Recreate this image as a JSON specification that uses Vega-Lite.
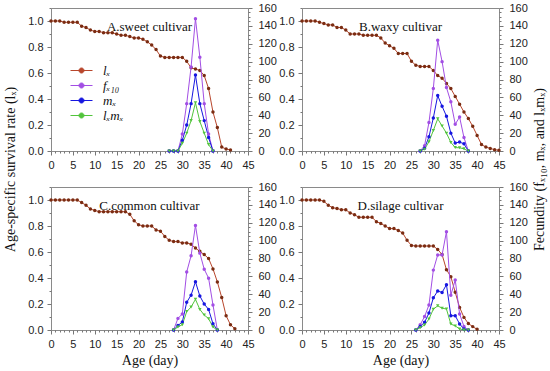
{
  "$schema": "https://vega.github.io/schema/vega-lite/v6.json",
  "padding": {"left": 3, "top": 1, "right": 2, "bottom": 2},
  "config": {
    "view": {"stroke": "#8a8a8a", "strokeWidth": 1},
    "axis": {"domain": false, "grid": false, "ticks": true, "tickSize": 4, "tickColor": "#777777", "tickCount": 100, "labelFont": "Liberation Sans", "labelFontSize": 11, "labelColor": "#222222", "titleFont": "Liberation Serif", "titleFontSize": 14, "titleFontWeight": "normal", "titleColor": "#111111", "labelOverlap": false, "labelFlush": false, "labelPadding": 4},
    "title": {"font": "Liberation Serif", "fontSize": 13, "fontWeight": "normal", "color": "#111111", "anchor": "middle", "offset": -32}
  },
  "data": {"values": [
    {"p":"A","a":0,"lx":1.0},{"p":"A","a":1,"lx":1.0},{"p":"A","a":2,"lx":1.0},{"p":"A","a":3,"lx":0.99},{"p":"A","a":4,"lx":0.99},{"p":"A","a":5,"lx":0.99},{"p":"A","a":6,"lx":0.99},{"p":"A","a":7,"lx":0.96},{"p":"A","a":8,"lx":0.95},{"p":"A","a":9,"lx":0.93},{"p":"A","a":10,"lx":0.92},{"p":"A","a":11,"lx":0.92},{"p":"A","a":12,"lx":0.91},{"p":"A","a":13,"lx":0.91},{"p":"A","a":14,"lx":0.91},{"p":"A","a":15,"lx":0.90},{"p":"A","a":16,"lx":0.89},{"p":"A","a":17,"lx":0.89},{"p":"A","a":18,"lx":0.88},{"p":"A","a":19,"lx":0.87},{"p":"A","a":20,"lx":0.87},{"p":"A","a":21,"lx":0.86},{"p":"A","a":22,"lx":0.84},{"p":"A","a":23,"lx":0.815},{"p":"A","a":24,"lx":0.78},{"p":"A","a":25,"lx":0.73},{"p":"A","a":26,"lx":0.72},
    {"p":"A","a":27,"lx":0.72,"f":0,"m":0,"g":0},{"p":"A","a":28,"lx":0.72,"f":0,"m":0,"g":0},{"p":"A","a":29,"lx":0.72,"f":0,"m":0,"g":0},{"p":"A","a":30,"lx":0.72,"f":19,"m":12,"g":8.6},{"p":"A","a":31,"lx":0.69,"f":53,"m":29,"g":20},{"p":"A","a":32,"lx":0.64,"f":94,"m":53,"g":34},{"p":"A","a":33,"lx":0.63,"f":148,"m":85,"g":54},{"p":"A","a":34,"lx":0.62,"f":105,"m":53,"g":33},{"p":"A","a":35,"lx":0.58,"f":53,"m":34,"g":20},{"p":"A","a":36,"lx":0.48,"f":19,"m":15,"g":7.2},{"p":"A","a":37,"lx":0.30,"f":0,"m":0,"g":0},
    {"p":"A","a":38,"lx":0.18},{"p":"A","a":39,"lx":0.03},{"p":"A","a":40,"lx":0.015},{"p":"A","a":41,"lx":0.008},

    {"p":"B","a":0,"lx":1.0},{"p":"B","a":1,"lx":1.0},{"p":"B","a":2,"lx":1.0},{"p":"B","a":3,"lx":1.0},{"p":"B","a":4,"lx":0.99},{"p":"B","a":5,"lx":0.98},{"p":"B","a":6,"lx":0.97},{"p":"B","a":7,"lx":0.97},{"p":"B","a":8,"lx":0.95},{"p":"B","a":9,"lx":0.95},{"p":"B","a":10,"lx":0.93},{"p":"B","a":11,"lx":0.90},{"p":"B","a":12,"lx":0.90},{"p":"B","a":13,"lx":0.90},{"p":"B","a":14,"lx":0.89},{"p":"B","a":15,"lx":0.89},{"p":"B","a":16,"lx":0.89},{"p":"B","a":17,"lx":0.89},{"p":"B","a":18,"lx":0.87},{"p":"B","a":19,"lx":0.83},{"p":"B","a":20,"lx":0.81},{"p":"B","a":21,"lx":0.79},{"p":"B","a":22,"lx":0.75},{"p":"B","a":23,"lx":0.75},{"p":"B","a":24,"lx":0.75},{"p":"B","a":25,"lx":0.69},{"p":"B","a":26,"lx":0.66},
    {"p":"B","a":27,"lx":0.65,"f":0,"m":0,"g":0},{"p":"B","a":28,"lx":0.65,"f":6,"m":3,"g":2},{"p":"B","a":29,"lx":0.65,"f":32,"m":16,"g":10.4},{"p":"B","a":30,"lx":0.62,"f":70,"m":37,"g":23},{"p":"B","a":31,"lx":0.58,"f":124,"m":62,"g":36},{"p":"B","a":32,"lx":0.56,"f":100,"m":50,"g":28},{"p":"B","a":33,"lx":0.52,"f":71,"m":39,"g":20},{"p":"B","a":34,"lx":0.48,"f":55,"m":20,"g":9.6},{"p":"B","a":35,"lx":0.42,"f":30,"m":9,"g":3.8},{"p":"B","a":36,"lx":0.36,"f":38,"m":10,"g":3.6},{"p":"B","a":37,"lx":0.30,"f":15,"m":8,"g":2.4},{"p":"B","a":38,"lx":0.25,"f":0,"m":0,"g":0},
    {"p":"B","a":39,"lx":0.19},{"p":"B","a":40,"lx":0.12},{"p":"B","a":41,"lx":0.05},{"p":"B","a":42,"lx":0.03},{"p":"B","a":43,"lx":0.02},{"p":"B","a":44,"lx":0.01},{"p":"B","a":45,"lx":0.005},

    {"p":"C","a":0,"lx":1.0},{"p":"C","a":1,"lx":1.0},{"p":"C","a":2,"lx":1.0},{"p":"C","a":3,"lx":1.0},{"p":"C","a":4,"lx":1.0},{"p":"C","a":5,"lx":1.0},{"p":"C","a":6,"lx":1.0},{"p":"C","a":7,"lx":0.98},{"p":"C","a":8,"lx":0.96},{"p":"C","a":9,"lx":0.93},{"p":"C","a":10,"lx":0.92},{"p":"C","a":11,"lx":0.91},{"p":"C","a":12,"lx":0.91},{"p":"C","a":13,"lx":0.91},{"p":"C","a":14,"lx":0.91},{"p":"C","a":15,"lx":0.91},{"p":"C","a":16,"lx":0.91},{"p":"C","a":17,"lx":0.91},{"p":"C","a":18,"lx":0.89},{"p":"C","a":19,"lx":0.84},{"p":"C","a":20,"lx":0.81},{"p":"C","a":21,"lx":0.80},{"p":"C","a":22,"lx":0.80},{"p":"C","a":23,"lx":0.80},{"p":"C","a":24,"lx":0.77},{"p":"C","a":25,"lx":0.76},{"p":"C","a":26,"lx":0.72},{"p":"C","a":27,"lx":0.69},
    {"p":"C","a":28,"lx":0.68,"f":0,"m":0,"g":0},{"p":"C","a":29,"lx":0.68,"f":13,"m":5,"g":3.4},{"p":"C","a":30,"lx":0.67,"f":18,"m":9,"g":6},{"p":"C","a":31,"lx":0.67,"f":65,"m":31,"g":20.6},{"p":"C","a":32,"lx":0.66,"f":83,"m":39,"g":25.7},{"p":"C","a":33,"lx":0.63,"f":117,"m":54,"g":34.3},{"p":"C","a":34,"lx":0.605,"f":86,"m":38,"g":23},{"p":"C","a":35,"lx":0.58,"f":68,"m":29,"g":16.8},{"p":"C","a":36,"lx":0.55,"f":58,"m":23,"g":12.7},{"p":"C","a":37,"lx":0.47,"f":28,"m":7,"g":3.3},{"p":"C","a":38,"lx":0.37,"f":0,"m":0,"g":0},
    {"p":"C","a":39,"lx":0.25},{"p":"C","a":40,"lx":0.11},{"p":"C","a":41,"lx":0.04},{"p":"C","a":42,"lx":0.01},

    {"p":"D","a":0,"lx":1.0},{"p":"D","a":1,"lx":1.0},{"p":"D","a":2,"lx":1.0},{"p":"D","a":3,"lx":1.0},{"p":"D","a":4,"lx":1.0},{"p":"D","a":5,"lx":0.99},{"p":"D","a":6,"lx":0.96},{"p":"D","a":7,"lx":0.94},{"p":"D","a":8,"lx":0.935},{"p":"D","a":9,"lx":0.925},{"p":"D","a":10,"lx":0.925},{"p":"D","a":11,"lx":0.90},{"p":"D","a":12,"lx":0.887},{"p":"D","a":13,"lx":0.867},{"p":"D","a":14,"lx":0.867},{"p":"D","a":15,"lx":0.867},{"p":"D","a":16,"lx":0.867},{"p":"D","a":17,"lx":0.833},{"p":"D","a":18,"lx":0.82},{"p":"D","a":19,"lx":0.80},{"p":"D","a":20,"lx":0.78},{"p":"D","a":21,"lx":0.78},{"p":"D","a":22,"lx":0.765},{"p":"D","a":23,"lx":0.746},{"p":"D","a":24,"lx":0.69},{"p":"D","a":25,"lx":0.65},
    {"p":"D","a":26,"lx":0.646,"f":0,"m":0,"g":0},{"p":"D","a":27,"lx":0.646,"f":6,"m":4,"g":2.6},{"p":"D","a":28,"lx":0.646,"f":15,"m":8.6,"g":5.6},{"p":"D","a":29,"lx":0.646,"f":28,"m":19,"g":12.3},{"p":"D","a":30,"lx":0.646,"f":67,"m":36,"g":23.3},{"p":"D","a":31,"lx":0.62,"f":84,"m":43.6,"g":27},{"p":"D","a":32,"lx":0.58,"f":84,"m":42,"g":24.4},{"p":"D","a":33,"lx":0.464,"f":110,"m":50.7,"g":23.5},{"p":"D","a":34,"lx":0.41,"f":39,"m":16,"g":6.6},{"p":"D","a":35,"lx":0.29,"f":56,"m":16,"g":4.6},{"p":"D","a":36,"lx":0.174,"f":18,"m":6.8,"g":1.2},{"p":"D","a":37,"lx":0.097,"f":4,"m":1,"g":0.1},{"p":"D","a":38,"lx":0.05,"f":0,"m":0,"g":0},
    {"p":"D","a":39,"lx":0.026},{"p":"D","a":40,"lx":0.005}
  ]},
  "columns": 2,
  "spacing": {"row": 36, "column": 54},
  "bounds": "flush",
  "concat": [
    {
      "width": 197, "height": 143,
      "title": {"text": "A.sweet cultivar"},
      "transform": [{"filter": "datum.p == 'A'"}],
      "layer": [
        {"transform": [{"filter": "isValid(datum.lx)"}], "layer": [
          {"mark": {"type": "line", "strokeWidth": 1},
           "encoding": {
             "x": {"field": "a", "type": "quantitative", "scale": {"domain": [0, 45], "nice": false, "zero": false}, "axis": {"title": null, "format": "d", "tickCount": 100, "values": [0,1,2,3,4,5,6,7,8,9,10,11,12,13,14,15,16,17,18,19,20,21,22,23,24,25,26,27,28,29,30,31,32,33,34,35,36,37,38,39,40,41,42,43,44,45], "labelExpr": "datum.value % 5 == 0 ? datum.label : ''", "tickSize": {"condition": {"test": "datum.value % 5 == 0", "value": 4}, "value": 2}, "labelOverlap": false, "labelFlush": false}},
             "y": {"field": "lx", "type": "quantitative", "scale": {"domain": [0, 1.1], "nice": false}, "axis": {"orient": "left", "title": "Age-specific survival rate (lₓ)", "titleY": 161, "titlePadding": 10, "tickCount": 100, "values": [0,0.1,0.2,0.3,0.4,0.5,0.6,0.7,0.8,0.9,1.0,1.1], "labelExpr": "(round(datum.value*10) % 2 == 0 && datum.value < 1.05) ? format(datum.value, '.1f') : ''", "tickSize": {"condition": {"test": "round(datum.value*10) % 2 == 0", "value": 4}, "value": 2}, "labelOverlap": false}},
             "color": {"datum": "lx", "type": "nominal",
               "scale": {"domain": ["lx", "f", "m", "g"], "range": ["#b8462c", "#a24ee4", "#1616e0", "#52c43c"]},
               "legend": {"orient": "none", "legendX": 24, "legendY": 56, "title": null, "direction": "vertical",
                 "symbolType": "M-2.2,0L2.2,0M-0.5,0A0.5,0.5 0 1 1 0.5,0A0.5,0.5 0 1 1 -0.5,0Z",
                 "symbolSize": 100, "symbolStrokeWidth": 1, "labelOffset": 15, "rowPadding": 1,
                 "labelFont": "Liberation Serif", "labelFontSize": 13, "labelFontStyle": "italic", "labelColor": "#111111",
                 "labelExpr": "{'lx': 'lₓ', 'f': 'fₓ₁₀', 'm': 'mₓ', 'g': 'lₓmₓ'}[datum.value]",
                 "encode": {"symbols": {"update": {"fill": {"scale": "color", "field": "value"}, "stroke": {"scale": "color", "field": "value"}, "strokeWidth": {"value": 1}, "opacity": {"value": 1}}}}}}
           }},
          {"mark": {"type": "point", "filled": true, "size": 12, "opacity": 1, "color": "#7a2c12"},
           "encoding": {"x": {"field": "a", "type": "quantitative"}, "y": {"field": "lx", "type": "quantitative"}}}
        ]},
        {"transform": [{"fold": ["f", "m", "g"], "as": ["s", "v"]}, {"filter": "isValid(datum.v)"}], "layer": [
          {"mark": {"type": "line", "strokeWidth": 1},
           "encoding": {
             "x": {"field": "a", "type": "quantitative"},
             "y": {"field": "v", "type": "quantitative", "scale": {"domain": [0, 160], "nice": false}, "axis": {"orient": "right", "title": null, "format": "d", "tickCount": 100, "values": [0,5,10,15,20,25,30,35,40,45,50,55,60,65,70,75,80,85,90,95,100,105,110,115,120,125,130,135,140,145,150,155,160], "labelExpr": "datum.value % 20 == 0 ? datum.label : ''", "tickSize": {"condition": {"test": "datum.value % 20 == 0", "value": 4}, "value": 2}, "labelOverlap": false, "labelPadding": 6}},
             "color": {"field": "s", "type": "nominal", "legend": null}
           }},
          {"mark": {"type": "point", "filled": true, "size": 12, "opacity": 1},
           "encoding": {
             "x": {"field": "a", "type": "quantitative"},
             "y": {"field": "v", "type": "quantitative"},
             "color": {"field": "s", "type": "nominal", "legend": null},
             "shape": {"field": "s", "type": "nominal", "scale": {"domain": ["f", "m", "g"], "range": ["circle", "circle", "triangle-down"]}, "legend": null}
           }}
        ]}
      ],
      "resolve": {"scale": {"y": "independent"}}
    },
    {
      "width": 197, "height": 143,
      "title": {"text": "B.waxy cultivar"},
      "transform": [{"filter": "datum.p == 'B'"}],
      "layer": [
        {"transform": [{"filter": "isValid(datum.lx)"}], "layer": [
          {"mark": {"type": "line", "strokeWidth": 1},
           "encoding": {
             "x": {"field": "a", "type": "quantitative", "scale": {"domain": [0, 45], "nice": false, "zero": false}, "axis": {"title": null, "format": "d", "tickCount": 100, "values": [0,1,2,3,4,5,6,7,8,9,10,11,12,13,14,15,16,17,18,19,20,21,22,23,24,25,26,27,28,29,30,31,32,33,34,35,36,37,38,39,40,41,42,43,44,45], "labelExpr": "datum.value % 5 == 0 ? datum.label : ''", "tickSize": {"condition": {"test": "datum.value % 5 == 0", "value": 4}, "value": 2}, "labelOverlap": false, "labelFlush": false}},
             "y": {"field": "lx", "type": "quantitative", "scale": {"domain": [0, 1.1], "nice": false}, "axis": {"orient": "left", "title": null, "tickCount": 100, "values": [0,0.1,0.2,0.3,0.4,0.5,0.6,0.7,0.8,0.9,1.0,1.1], "labelExpr": "(round(datum.value*10) % 2 == 0 && datum.value < 1.05) ? format(datum.value, '.1f') : ''", "tickSize": {"condition": {"test": "round(datum.value*10) % 2 == 0", "value": 4}, "value": 2}, "labelOverlap": false}},
             "color": {"datum": "lx", "type": "nominal", "legend": null}
           }},
          {"mark": {"type": "point", "filled": true, "size": 12, "opacity": 1, "color": "#7a2c12"},
           "encoding": {"x": {"field": "a", "type": "quantitative"}, "y": {"field": "lx", "type": "quantitative"}}}
        ]},
        {"transform": [{"fold": ["f", "m", "g"], "as": ["s", "v"]}, {"filter": "isValid(datum.v)"}], "layer": [
          {"mark": {"type": "line", "strokeWidth": 1},
           "encoding": {
             "x": {"field": "a", "type": "quantitative"},
             "y": {"field": "v", "type": "quantitative", "scale": {"domain": [0, 160], "nice": false}, "axis": {"orient": "right", "title": "Fecundity (fₓ₁₀, mₓ, and lₓmₓ)", "titleAngle": 270, "titleY": 161, "titlePadding": 19, "format": "d", "tickCount": 100, "values": [0,5,10,15,20,25,30,35,40,45,50,55,60,65,70,75,80,85,90,95,100,105,110,115,120,125,130,135,140,145,150,155,160], "labelExpr": "datum.value % 20 == 0 ? datum.label : ''", "tickSize": {"condition": {"test": "datum.value % 20 == 0", "value": 4}, "value": 2}, "labelOverlap": false, "labelPadding": 6}},
             "color": {"field": "s", "type": "nominal", "legend": null}
           }},
          {"mark": {"type": "point", "filled": true, "size": 12, "opacity": 1},
           "encoding": {
             "x": {"field": "a", "type": "quantitative"},
             "y": {"field": "v", "type": "quantitative"},
             "color": {"field": "s", "type": "nominal", "legend": null},
             "shape": {"field": "s", "type": "nominal", "scale": {"domain": ["f", "m", "g"], "range": ["circle", "circle", "triangle-down"]}, "legend": null}
           }}
        ]}
      ],
      "resolve": {"scale": {"y": "independent"}}
    },
    {
      "width": 197, "height": 143,
      "title": {"text": "C.common cultivar"},
      "transform": [{"filter": "datum.p == 'C'"}],
      "layer": [
        {"transform": [{"filter": "isValid(datum.lx)"}], "layer": [
          {"mark": {"type": "line", "strokeWidth": 1},
           "encoding": {
             "x": {"field": "a", "type": "quantitative", "scale": {"domain": [0, 45], "nice": false, "zero": false}, "axis": {"title": "Age (day)", "titlePadding": 4, "format": "d", "tickCount": 100, "values": [0,1,2,3,4,5,6,7,8,9,10,11,12,13,14,15,16,17,18,19,20,21,22,23,24,25,26,27,28,29,30,31,32,33,34,35,36,37,38,39,40,41,42,43,44,45], "labelExpr": "datum.value % 5 == 0 ? datum.label : ''", "tickSize": {"condition": {"test": "datum.value % 5 == 0", "value": 4}, "value": 2}, "labelOverlap": false, "labelFlush": false}},
             "y": {"field": "lx", "type": "quantitative", "scale": {"domain": [0, 1.1], "nice": false}, "axis": {"orient": "left", "title": null, "tickCount": 100, "values": [0,0.1,0.2,0.3,0.4,0.5,0.6,0.7,0.8,0.9,1.0,1.1], "labelExpr": "(round(datum.value*10) % 2 == 0 && datum.value < 1.05) ? format(datum.value, '.1f') : ''", "tickSize": {"condition": {"test": "round(datum.value*10) % 2 == 0", "value": 4}, "value": 2}, "labelOverlap": false}},
             "color": {"datum": "lx", "type": "nominal", "legend": null}
           }},
          {"mark": {"type": "point", "filled": true, "size": 12, "opacity": 1, "color": "#7a2c12"},
           "encoding": {"x": {"field": "a", "type": "quantitative"}, "y": {"field": "lx", "type": "quantitative"}}}
        ]},
        {"transform": [{"fold": ["f", "m", "g"], "as": ["s", "v"]}, {"filter": "isValid(datum.v)"}], "layer": [
          {"mark": {"type": "line", "strokeWidth": 1},
           "encoding": {
             "x": {"field": "a", "type": "quantitative"},
             "y": {"field": "v", "type": "quantitative", "scale": {"domain": [0, 160], "nice": false}, "axis": {"orient": "right", "title": null, "format": "d", "tickCount": 100, "values": [0,5,10,15,20,25,30,35,40,45,50,55,60,65,70,75,80,85,90,95,100,105,110,115,120,125,130,135,140,145,150,155,160], "labelExpr": "datum.value % 20 == 0 ? datum.label : ''", "tickSize": {"condition": {"test": "datum.value % 20 == 0", "value": 4}, "value": 2}, "labelOverlap": false, "labelPadding": 6}},
             "color": {"field": "s", "type": "nominal", "legend": null}
           }},
          {"mark": {"type": "point", "filled": true, "size": 12, "opacity": 1},
           "encoding": {
             "x": {"field": "a", "type": "quantitative"},
             "y": {"field": "v", "type": "quantitative"},
             "color": {"field": "s", "type": "nominal", "legend": null},
             "shape": {"field": "s", "type": "nominal", "scale": {"domain": ["f", "m", "g"], "range": ["circle", "circle", "triangle-down"]}, "legend": null}
           }}
        ]}
      ],
      "resolve": {"scale": {"y": "independent"}}
    },
    {
      "width": 197, "height": 143,
      "title": {"text": "D.silage cultivar"},
      "transform": [{"filter": "datum.p == 'D'"}],
      "layer": [
        {"transform": [{"filter": "isValid(datum.lx)"}], "layer": [
          {"mark": {"type": "line", "strokeWidth": 1},
           "encoding": {
             "x": {"field": "a", "type": "quantitative", "scale": {"domain": [0, 45], "nice": false, "zero": false}, "axis": {"title": "Age (day)", "titlePadding": 4, "format": "d", "tickCount": 100, "values": [0,1,2,3,4,5,6,7,8,9,10,11,12,13,14,15,16,17,18,19,20,21,22,23,24,25,26,27,28,29,30,31,32,33,34,35,36,37,38,39,40,41,42,43,44,45], "labelExpr": "datum.value % 5 == 0 ? datum.label : ''", "tickSize": {"condition": {"test": "datum.value % 5 == 0", "value": 4}, "value": 2}, "labelOverlap": false, "labelFlush": false}},
             "y": {"field": "lx", "type": "quantitative", "scale": {"domain": [0, 1.1], "nice": false}, "axis": {"orient": "left", "title": null, "tickCount": 100, "values": [0,0.1,0.2,0.3,0.4,0.5,0.6,0.7,0.8,0.9,1.0,1.1], "labelExpr": "(round(datum.value*10) % 2 == 0 && datum.value < 1.05) ? format(datum.value, '.1f') : ''", "tickSize": {"condition": {"test": "round(datum.value*10) % 2 == 0", "value": 4}, "value": 2}, "labelOverlap": false}},
             "color": {"datum": "lx", "type": "nominal", "legend": null}
           }},
          {"mark": {"type": "point", "filled": true, "size": 12, "opacity": 1, "color": "#7a2c12"},
           "encoding": {"x": {"field": "a", "type": "quantitative"}, "y": {"field": "lx", "type": "quantitative"}}}
        ]},
        {"transform": [{"fold": ["f", "m", "g"], "as": ["s", "v"]}, {"filter": "isValid(datum.v)"}], "layer": [
          {"mark": {"type": "line", "strokeWidth": 1},
           "encoding": {
             "x": {"field": "a", "type": "quantitative"},
             "y": {"field": "v", "type": "quantitative", "scale": {"domain": [0, 160], "nice": false}, "axis": {"orient": "right", "title": null, "format": "d", "tickCount": 100, "values": [0,5,10,15,20,25,30,35,40,45,50,55,60,65,70,75,80,85,90,95,100,105,110,115,120,125,130,135,140,145,150,155,160], "labelExpr": "datum.value % 20 == 0 ? datum.label : ''", "tickSize": {"condition": {"test": "datum.value % 20 == 0", "value": 4}, "value": 2}, "labelOverlap": false, "labelPadding": 6}},
             "color": {"field": "s", "type": "nominal", "legend": null}
           }},
          {"mark": {"type": "point", "filled": true, "size": 12, "opacity": 1},
           "encoding": {
             "x": {"field": "a", "type": "quantitative"},
             "y": {"field": "v", "type": "quantitative"},
             "color": {"field": "s", "type": "nominal", "legend": null},
             "shape": {"field": "s", "type": "nominal", "scale": {"domain": ["f", "m", "g"], "range": ["circle", "circle", "triangle-down"]}, "legend": null}
           }}
        ]}
      ],
      "resolve": {"scale": {"y": "independent"}}
    }
  ]
}
